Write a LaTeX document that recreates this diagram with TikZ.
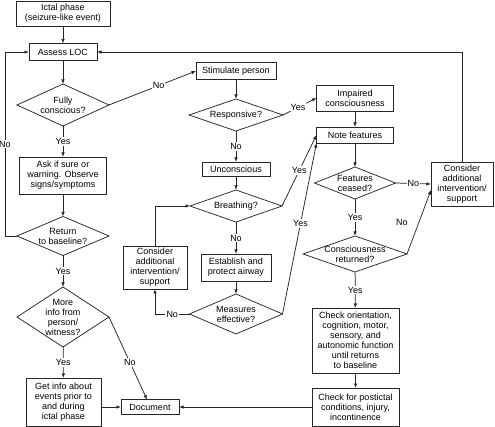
\documentclass[tikz,border=0pt]{standalone}
\usepackage{fontspec}
\setmainfont{Liberation Sans}
\usepackage{tikz}
\usetikzlibrary{arrows.meta,shapes.geometric}

\begin{document}
\begin{tikzpicture}[x=1pt,y=-1pt,
  every node/.style={font=\fontsize{9}{10}\selectfont},
  box/.style={draw=black!85, line width=0.75pt, align=center, inner sep=1pt, outer sep=0pt},
  decision/.style={draw=black!85, line width=0.75pt, shape=diamond, align=center, inner sep=-6pt, outer sep=0pt},
  lbl/.style={fill=white, inner sep=1pt},
  arr/.style={draw=black!85, line width=0.75pt, -{Latex[length=4.5pt,width=3.5pt]}}]
\useasboundingbox (0,0) rectangle (495,427);
\node[box, minimum width=94pt, minimum height=25pt] (ictal) at (63,13.5) {Ictal phase\\(seizure-like event)};
\node[box, minimum width=68pt, minimum height=17pt] (assess) at (63,52) {Assess LOC};
\node[decision, minimum width=92pt, minimum height=42pt, aspect=2.2] (fully) at (63,105) {Fully\\conscious?};
\node[box, minimum width=87pt, minimum height=37pt] (ask) at (63,175.5) {Ask if sure or\\warning. Observe\\signs/symptoms};
\node[decision, minimum width=92pt, minimum height=39pt, aspect=2.35] (return) at (63,236) {Return\\to baseline?};
\node[decision, minimum width=92pt, minimum height=60pt, aspect=1.53] (more) at (63,317) {More\\info from\\person/\\witness?};
\node[box, minimum width=75pt, minimum height=48pt] (getinfo) at (63.5,402) {Get info about\\events prior to\\and during\\ictal phase};
\node[box, minimum width=58pt, minimum height=15pt] (doc) at (150,407) {Document};
\node[box, minimum width=80pt, minimum height=17pt] (stim) at (236,71) {Stimulate person};
\node[decision, minimum width=94pt, minimum height=32pt, aspect=2.9] (resp) at (236,115) {Responsive?};
\node[box, minimum width=68pt, minimum height=14pt] (uncons) at (236,169) {Unconscious};
\node[decision, minimum width=92pt, minimum height=32pt, aspect=2.9] (breath) at (236,206) {Breathing?};
\node[box, minimum width=70pt, minimum height=27pt] (airway) at (236,267.5) {Establish and\\protect airway};
\node[decision, minimum width=93pt, minimum height=40pt, aspect=2.3] (meas) at (236,314) {Measures\\effective?};
\node[box, minimum width=64pt, minimum height=43pt] (consL) at (155,267.5) {Consider\\additional\\intervention/\\support};
\node[box, minimum width=77pt, minimum height=26pt] (impaired) at (355,98) {Impaired\\consciousness};
\node[box, minimum width=77pt, minimum height=16pt] (note) at (355,135) {Note features};
\node[decision, minimum width=81pt, minimum height=32pt, aspect=2.5] (ceased) at (355,183) {Features\\ceased?};
\node[box, minimum width=62pt, minimum height=44pt] (consR) at (462,184) {Consider\\additional\\intervention/\\support};
\node[decision, minimum width=104pt, minimum height=36pt, aspect=2.9] (returned) at (355,254) {Consciousness\\returned?};
\node[box, minimum width=87pt, minimum height=65pt] (orient) at (355.5,340.5) {Check orientation,\\cognition, motor,\\sensory, and\\autonomic function\\until returns\\to baseline};
\node[box, minimum width=87pt, minimum height=38pt] (postictal) at (355.5,407) {Check for postictal\\conditions, injury,\\incontinence};
\draw[arr] (ictal) -- (assess);
\draw[arr] (assess) -- (fully);
\draw[arr] (fully) -- node[lbl] {Yes} (ask);
\draw[arr] (ask) -- (return);
\draw[arr] (return) -- node[lbl] {Yes} (more);
\draw[arr] (more) -- node[lbl] {Yes} (getinfo);
\draw[arr] (return.west) -- ++(-12,0) |- node[lbl, pos=0.25] {No} (assess.west);
\draw[arr] (fully.east) -- node[lbl, pos=0.57] {No} (stim.west);
\draw[arr] (more.east) -- node[lbl, pos=0.55] {No} ([xshift=-3pt]doc.north);
\draw[arr] (getinfo.east |- doc.west) -- (doc.west);
\draw[arr] (postictal.west) -- (doc.east);
\draw[arr] (stim) -- (resp);
\draw[arr] (resp.east) -- node[lbl, pos=0.45] {Yes} (impaired.west);
\draw[arr] (resp) -- node[lbl] {No} (uncons);
\draw[arr] (uncons) -- (breath);
\draw[arr] (breath) -- node[lbl] {No} (airway);
\draw[arr] (airway) -- (meas);
\draw[arr] (breath.east) -- node[lbl, pos=0.5] {Yes} (note.west);
\draw[arr] (meas.east) -- node[lbl, pos=0.53] {Yes} (note.south west);
\draw[arr] (meas.west) -| node[lbl, pos=0.25] {No} (consL.south);
\draw[arr] (consL.north) |- (breath.west);
\draw[arr] (impaired) -- (note);
\draw[arr] (note) -- (ceased);
\draw[arr] (ceased.east) -- node[lbl] {No} (consR.west);
\draw[arr] (ceased) -- node[lbl] {Yes} (returned);
\draw[arr] (returned.east) -- node[pos=0.5, left=10pt, inner sep=1pt] {No} ([yshift=-6pt]consR.west);
\draw[arr] (returned) -- node[lbl] {Yes} (orient);
\draw[arr] (orient) -- (postictal);
\draw[arr] (consR.north) |- (assess.east);
\end{tikzpicture}
\end{document}
